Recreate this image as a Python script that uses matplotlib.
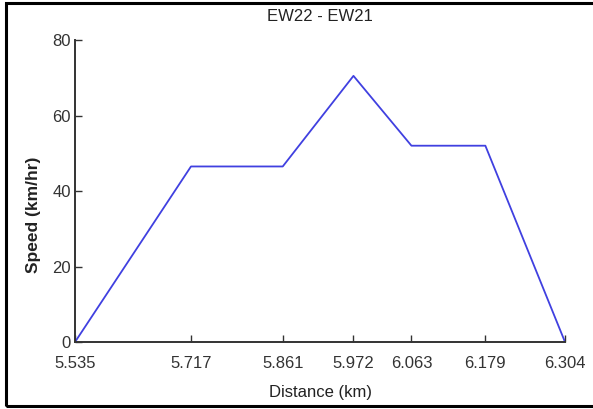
import matplotlib.pyplot as plt
from matplotlib import font_manager
from matplotlib.patches import Rectangle

# distance along the route (km) and speed at each station
distance = [5.535, 5.717, 5.861, 5.972, 6.063, 6.179, 6.304]
speed = [0, 46.5, 46.5, 70.5, 52, 52, 0]
xtick_labels = ['5.535', '5.717', '5.861', '5.972', '6.063', '6.179', '6.304']
yticks = [0, 20, 40, 60, 80]

# prefer a narrow sans face if one is installed
names = {f.name for f in font_manager.fontManager.ttflist}
if 'Liberation Sans Narrow' in names:
    plt.rcParams['font.family'] = ['Liberation Sans Narrow', 'DejaVu Sans']
    fs, fs_y = 13, 14
else:
    plt.rcParams['font.family'] = ['Liberation Sans', 'DejaVu Sans']
    fs, fs_y = 12, 12.5

fig = plt.figure(figsize=(5.93, 4.09), dpi=100)
ax = fig.add_axes([0.1265, 0.1638, 0.8263, 0.7384])

ax.plot(distance, speed, color='#4040e0', linewidth=1.3)

ax.set_xlim(distance[0], distance[-1])
ax.set_ylim(0, 80)
ax.set_xticks(distance)
ax.set_xticklabels(xtick_labels)
ax.set_yticks(yticks)

for s in ['top', 'right']:
    ax.spines[s].set_visible(False)
for s in ['left', 'bottom']:
    ax.spines[s].set_color('#333333')
    ax.spines[s].set_linewidth(1.4)

ax.tick_params(direction='in', length=5, width=1, colors='#333333',
               labelsize=fs)
ax.tick_params(axis='x', pad=10)
ax.tick_params(axis='y', pad=3)

ax.set_title('EW22 - EW21', fontsize=fs, color='#222222', pad=14)
ax.set_xlabel('Distance (km)', fontsize=fs, color='#222222', labelpad=10)
ax.set_ylabel('Speed (km/hr)', fontsize=fs_y, fontweight='bold',
              color='#222222')
ax.yaxis.set_label_coords(-0.069, 0.42)

# black frame around the figure
fig.patches.append(Rectangle((6 / 593, 3 / 409), 1.0, 403 / 409,
                             transform=fig.transFigure, fill=False,
                             edgecolor='black', linewidth=2.2))

fig.savefig('out.png', dpi=100)
